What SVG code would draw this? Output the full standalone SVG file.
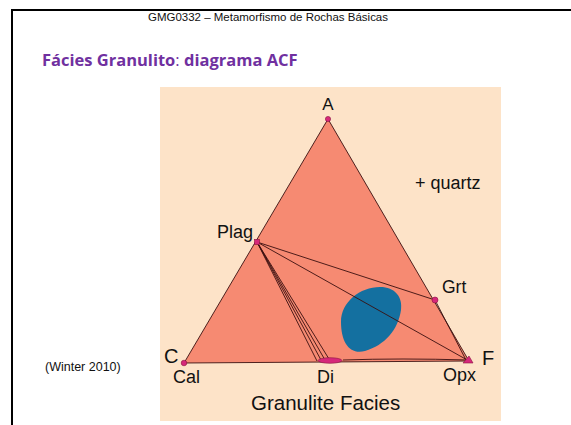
<svg xmlns="http://www.w3.org/2000/svg" width="571" height="425" viewBox="0 0 571 425">
<style>
.lbl{font-family:"Liberation Sans",Arial,sans-serif;fill:#111}
.tie{stroke:#3a1010;stroke-width:0.9;fill:none}
.pt{fill:#d6287a;stroke:#8a1040;stroke-width:0.6}
</style>
<rect width="571" height="425" fill="#fff"/>
<path d="M12 425V10H571" fill="none" stroke="#000" stroke-width="2"/>
<text x="268" y="21" text-anchor="middle" font-family="'Liberation Sans',Arial,sans-serif" font-size="11" textLength="240" lengthAdjust="spacingAndGlyphs" fill="#111">GMG0332 – Metamorfismo de Rochas Básicas</text>
<text x="42" y="66" font-family="'Open Sans','Liberation Sans',sans-serif" font-size="16.5" fill="#7030a0"><tspan font-weight="bold">Fácies Granulito</tspan>: <tspan font-weight="bold">diagrama ACF</tspan></text>
<text x="45" y="371" class="lbl" font-size="12.5">(Winter 2010)</text>
<g id="background"><rect x="160" y="87" width="341" height="334" fill="#fde3c8"/></g>
<g id="triangle"><polygon points="328,119 184,363 469,361" fill="#f68a72" stroke="#3a1010" stroke-width="0.9"/></g>
<g id="blob"><path d="M380 287 C395 287 403 297 401 310 C398 330 385 345 365 351 C350 355 341 343 341 322 C341 302 360 287 380 287 Z" fill="#1470a0"/></g>
<g id="connectors">
<line class="tie" x1="257" y1="242" x2="435" y2="300"/>
<line class="tie" x1="257" y1="242" x2="469" y2="361"/>
<line class="tie" x1="257" y1="242" x2="317" y2="361"/>
<line class="tie" x1="257" y1="242" x2="321" y2="360"/>
<line class="tie" x1="257" y1="242" x2="325" y2="360"/>
<line class="tie" x1="257" y1="242" x2="329" y2="359"/>
<line class="tie" x1="435" y1="300" x2="466" y2="360"/>
<path class="tie" d="M343 360 Q400 358 469 360" stroke-width="1.4"/>
</g>
<g id="node-A"><circle class="pt" cx="328" cy="119" r="2.6"/><text class="lbl" x="328" y="110" text-anchor="middle" font-size="17">A</text></g>
<g id="node-quartz"><text class="lbl" x="415" y="189" font-size="18">+ quartz</text></g>
<g id="node-Plag"><rect class="pt" x="254.5" y="239.5" width="5" height="5"/><text class="lbl" x="253" y="238" text-anchor="end" font-size="18">Plag</text></g>
<g id="node-Grt"><circle class="pt" cx="435" cy="300" r="3"/><text class="lbl" x="442" y="293" font-size="17.5">Grt</text></g>
<g id="node-C"><circle class="pt" cx="184" cy="363" r="2.8"/><text class="lbl" x="164" y="363" font-size="20">C</text><text class="lbl" x="173" y="383" font-size="18">Cal</text></g>
<g id="node-Di"><ellipse class="pt" cx="330" cy="360.5" rx="12" ry="2.8"/><text class="lbl" x="317" y="383" font-size="18">Di</text></g>
<g id="node-F"><polygon class="pt" points="463,363 469,356 473,363"/><text class="lbl" x="482" y="365" font-size="20">F</text><text class="lbl" x="443" y="381" font-size="18">Opx</text></g>
<g id="caption"><text class="lbl" x="251" y="410" font-size="20.5">Granulite Facies</text></g>
</svg>
